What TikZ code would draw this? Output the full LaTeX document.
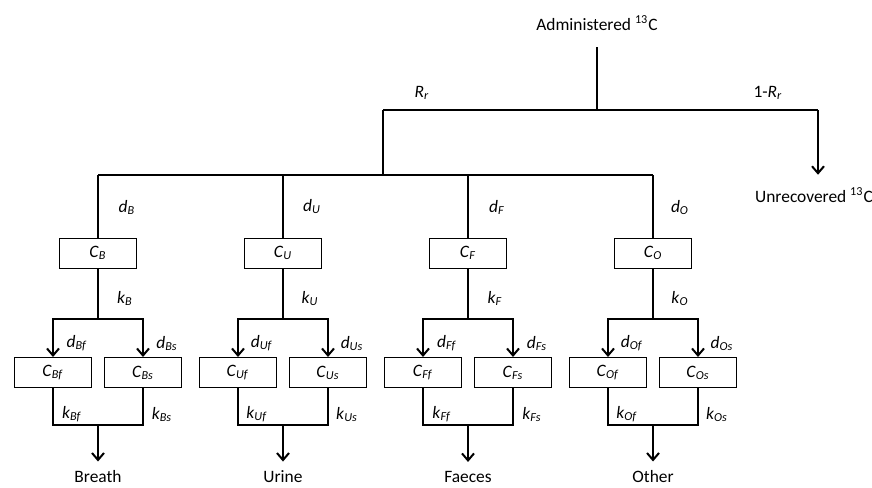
\documentclass[tikz,border=0pt]{standalone}
\usepackage{fontspec}
\setmainfont{Carlito}
\usepackage{tikz}
\usetikzlibrary{arrows.meta}
\newcommand{\iv}[2]{\textit{#1}\textsubscript{\textit{#2}}}

\begin{document}
\begin{tikzpicture}[x=0.5pt,y=-0.5pt,
font=\fontsize{8.7}{10}\selectfont,
>={Straight Barb[length=3.5pt,width=6pt]},
% common options for the compartments:
box/.style = {draw, line width=0.5pt, minimum width=38.5pt,
            minimum height=15pt, inner sep=0},
% common options for the rate labels and end labels:
lbl/.style = {inner sep=0},
outlbl/.style = {inner sep=6pt},
endlbl/.style = {inner sep=4.5pt},
flow/.style = {line width=1pt}]
\useasboundingbox (0,0) rectangle (872,487);
% top split
\node[outlbl] (adm) at (597,23) {Administered \textsuperscript{13}C};
\node[outlbl] (unrec) at (814,195) {Unrecovered \textsuperscript{13}C};
\node[lbl] (Rr) at (422,93) {\iv{R}{r}};
\node[lbl] (Rr1) at (768,93) {1-\iv{R}{r}};
\coordinate (a0) at (597,47);
\coordinate (r0) at (597,110);
\coordinate (rl) at (383,110);
\coordinate (rr) at (818,110);
\coordinate (h0) at (383,175);
\coordinate (tB) at (98,175);
\coordinate (tU) at (283,175);
\coordinate (tF) at (468,175);
\coordinate (tO) at (653,175);
\draw[flow] (a0) -- (r0);
\draw[flow] (rl) -- (rr);
\draw[flow,->] (rr) -- (rr |- unrec.north);
\draw[flow] (rl) -- (h0);
\draw[flow] (tB) -- (tO);
% breath
\node[box] (CB) at (98,253) {\iv{C}{B}};
\node[box] (CBf) at (53,372.5) {\iv{C}{Bf}};
\node[box] (CBs) at (143,372.5) {\iv{C}{Bs}};
\node[lbl] (dB) at (127,207) {\iv{d}{B}};
\node[lbl] (kB) at (125,298) {\iv{k}{B}};
\node[lbl] (dBf) at (77,343) {\iv{d}{Bf}};
\node[lbl] (dBs) at (167,343) {\iv{d}{Bs}};
\node[lbl] (kBf) at (72,414) {\iv{k}{Bf}};
\node[lbl] (kBs) at (162,414) {\iv{k}{Bs}};
\node[endlbl] (Breath) at (98,477) {Breath};
\coordinate (sB) at (98,319);
\coordinate (jB) at (98,425);
\draw[flow] (tB) -- (CB.north);
\draw[flow] (CB.south) -- (sB);
\draw[flow,->] (sB) -| (CBf.north);
\draw[flow,->] (sB) -| (CBs.north);
\draw[flow] (CBf.south) |- (jB) -| (CBs.south);
\draw[flow,->] (jB) -- (Breath);
% urine
\node[box] (CU) at (283,253) {\iv{C}{U}};
\node[box] (CUf) at (238,372.5) {\iv{C}{Uf}};
\node[box] (CUs) at (328,372.5) {\iv{C}{Us}};
\node[lbl] (dU) at (312,207) {\iv{d}{U}};
\node[lbl] (kU) at (310,298) {\iv{k}{U}};
\node[lbl] (dUf) at (262,343) {\iv{d}{Uf}};
\node[lbl] (dUs) at (352,343) {\iv{d}{Us}};
\node[lbl] (kUf) at (257,414) {\iv{k}{Uf}};
\node[lbl] (kUs) at (347,414) {\iv{k}{Us}};
\node[endlbl] (Urine) at (283,477) {Urine};
\coordinate (sU) at (283,319);
\coordinate (jU) at (283,425);
\draw[flow] (tU) -- (CU.north);
\draw[flow] (CU.south) -- (sU);
\draw[flow,->] (sU) -| (CUf.north);
\draw[flow,->] (sU) -| (CUs.north);
\draw[flow] (CUf.south) |- (jU) -| (CUs.south);
\draw[flow,->] (jU) -- (Urine);
% faeces
\node[box] (CF) at (468,253) {\iv{C}{F}};
\node[box] (CFf) at (423,372.5) {\iv{C}{Ff}};
\node[box] (CFs) at (513,372.5) {\iv{C}{Fs}};
\node[lbl] (dF) at (497,207) {\iv{d}{F}};
\node[lbl] (kF) at (495,298) {\iv{k}{F}};
\node[lbl] (dFf) at (447,343) {\iv{d}{Ff}};
\node[lbl] (dFs) at (537,343) {\iv{d}{Fs}};
\node[lbl] (kFf) at (442,414) {\iv{k}{Ff}};
\node[lbl] (kFs) at (532,414) {\iv{k}{Fs}};
\node[endlbl] (Faeces) at (468,477) {Faeces};
\coordinate (sF) at (468,319);
\coordinate (jF) at (468,425);
\draw[flow] (tF) -- (CF.north);
\draw[flow] (CF.south) -- (sF);
\draw[flow,->] (sF) -| (CFf.north);
\draw[flow,->] (sF) -| (CFs.north);
\draw[flow] (CFf.south) |- (jF) -| (CFs.south);
\draw[flow,->] (jF) -- (Faeces);
% other
\node[box] (CO) at (653,253) {\iv{C}{O}};
\node[box] (COf) at (608,372.5) {\iv{C}{Of}};
\node[box] (COs) at (698,372.5) {\iv{C}{Os}};
\node[lbl] (dO) at (680,207) {\iv{d}{O}};
\node[lbl] (kO) at (680,298) {\iv{k}{O}};
\node[lbl] (dOf) at (632,343) {\iv{d}{Of}};
\node[lbl] (dOs) at (722,343) {\iv{d}{Os}};
\node[lbl] (kOf) at (627,414) {\iv{k}{Of}};
\node[lbl] (kOs) at (717,414) {\iv{k}{Os}};
\node[endlbl] (Other) at (653,477) {Other};
\coordinate (sO) at (653,319);
\coordinate (jO) at (653,425);
\draw[flow] (tO) -- (CO.north);
\draw[flow] (CO.south) -- (sO);
\draw[flow,->] (sO) -| (COf.north);
\draw[flow,->] (sO) -| (COs.north);
\draw[flow] (COf.south) |- (jO) -| (COs.south);
\draw[flow,->] (jO) -- (Other);
\end{tikzpicture}
\end{document}
